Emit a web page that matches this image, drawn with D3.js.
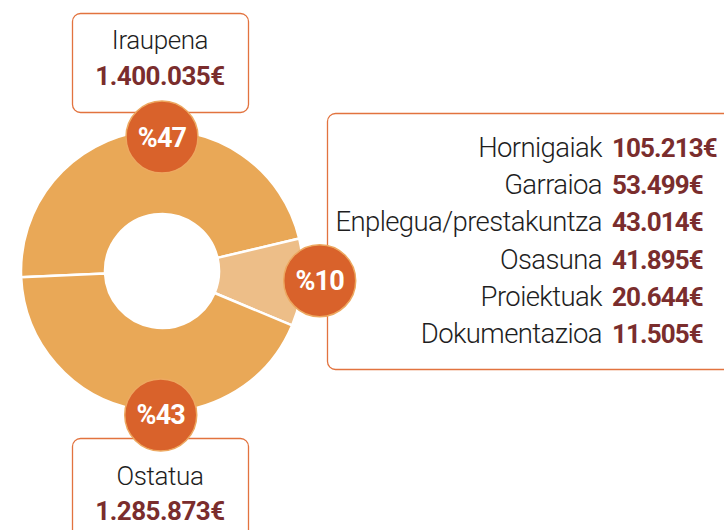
<!DOCTYPE html>
<html>
<head>
<meta charset="utf-8">
<script src="https://cdn.jsdelivr.net/npm/d3@7"></script>
<style>
  html, body { margin: 0; padding: 0; background: #fff; }
  svg { display: block; font-family: Roboto, "Liberation Sans", sans-serif; }
</style>
</head>
<body>
<svg id="chart" width="724" height="530"></svg>
<script>
// datuak
var categories = ["Iraupena", "Bestelakoak", "Ostatua"];
var percents = [47, 10, 43];
var totals = [1400035, 275770, 1285873];

var detailLabels = ["Hornigaiak", "Garraioa", "Enplegua/prestakuntza", "Osasuna", "Proiektuak", "Dokumentazioa"];
var detailValues = [105213, 53499, 43014, 41895, 20644, 11505];

// koloreak
var sliceColor = ["#E9A857", "#EDBE88", "#E9A857"];
var badgeColor = "#D9622B";
var boxStroke = "#E2733F";
var amountColor = "#7A2D2D";

var loc = d3.formatLocale({decimal: ",", thousands: ".", grouping: [3], currency: ["", "€"]});
var euro = function(v){ return loc.format(",.0f")(v) + "€"; };

var svg = d3.select("#chart");
var cx = 162, cy = 271;
var deg = Math.PI / 180;

// boxes first (badges sit on top of them)
var boxes = [
  {x: 72, y: 13, w: 176, h: 99},
  {x: 327, y: 113, w: 420, h: 256},
  {x: 72, y: 438, w: 176, h: 110}
];
svg.append("g").attr("class","boxes")
  .selectAll("rect")
  .data(boxes)
  .enter()
  .append("rect")
  .attr("x", function(d){ return d.x + 0.5; })
  .attr("y", function(d){ return d.y + 0.5; })
  .attr("width", function(d){ return d.w; })
  .attr("height", function(d){ return d.h; })
  .attr("rx", 8)
  .attr("fill", "#fff")
  .attr("stroke", boxStroke)
  .attr("stroke-width", 1.3);

// donut
var pie = d3.pie().sort(null).value(function(d){ return d; })
  .startAngle(-92.5 * deg).endAngle(267.5 * deg);
var arc = d3.arc().innerRadius(57).outerRadius(141);

svg.append("g")
  .attr("transform", "translate(" + cx + "," + cy + ")")
  .selectAll("path")
  .data(pie(percents))
  .enter()
  .append("path")
  .attr("d", arc)
  .attr("fill", function(d, i){ return sliceColor[i]; })
  .attr("stroke", "#fff")
  .attr("stroke-width", 2.5)
  .attr("stroke-linejoin", "miter");

// badges, polar position per slice
var badgePos = [{a: 0, r: 134}, {a: 93.5, r: 158}, {a: 180.5, r: 144}];
var badges = svg.append("g").selectAll("g")
  .data(percents)
  .enter()
  .append("g")
  .attr("transform", function(d, i){
    var p = badgePos[i];
    return "translate(" + (cx + p.r * Math.sin(p.a * deg)) + "," + (cy - p.r * Math.cos(p.a * deg)) + ")";
  });
badges.append("circle")
  .attr("r", 36)
  .attr("fill", badgeColor)
  .attr("stroke", "#EDA860")
  .attr("stroke-width", 1.5);
badges.append("text")
  .attr("text-anchor", "middle")
  .attr("y", 9.5)
  .attr("fill", "#fff")
  .attr("font-size", 27)
  .attr("font-weight", 700)
  .attr("letter-spacing", -0.8)
  .text(function(d){ return "%" + d; });

// top and bottom box texts
var mainText = [
  {i: 0, y1: 48.5, y2: 85},
  {i: 2, y1: 485, y2: 520}
];
var mt = svg.append("g").selectAll("g").data(mainText).enter().append("g");
mt.append("text")
  .attr("x", 160).attr("y", function(d){ return d.y1; })
  .attr("text-anchor", "middle")
  .attr("font-size", 26).attr("font-weight", 300)
  .attr("fill", "#1e1e1e")
  .attr("letter-spacing", -0.4)
  .text(function(d){ return categories[d.i]; });
mt.append("text")
  .attr("x", 160).attr("y", function(d){ return d.y2; })
  .attr("text-anchor", "middle")
  .attr("font-size", 26).attr("font-weight", 700)
  .attr("fill", amountColor)
  .attr("letter-spacing", -0.5)
  .text(function(d){ return euro(totals[d.i]); });

// detail list in the right box
var rowY = d3.scalePoint().domain(detailLabels).range([157, 343]);
var rows = svg.append("g").selectAll("g")
  .data(detailLabels)
  .enter()
  .append("g")
  .attr("transform", function(d){ return "translate(0," + rowY(d) + ")"; });
rows.append("text")
  .attr("x", 602)
  .attr("text-anchor", "end")
  .attr("font-size", 27.5).attr("font-weight", 300)
  .attr("fill", "#1e1e1e")
  .attr("letter-spacing", -0.6)
  .text(function(d){ return d; });
rows.append("text")
  .attr("x", 612)
  .attr("font-size", 26).attr("font-weight", 700)
  .attr("fill", amountColor)
  .attr("letter-spacing", -0.9)
  .text(function(d, i){ return euro(detailValues[i]); });
</script>
</body>
</html>
